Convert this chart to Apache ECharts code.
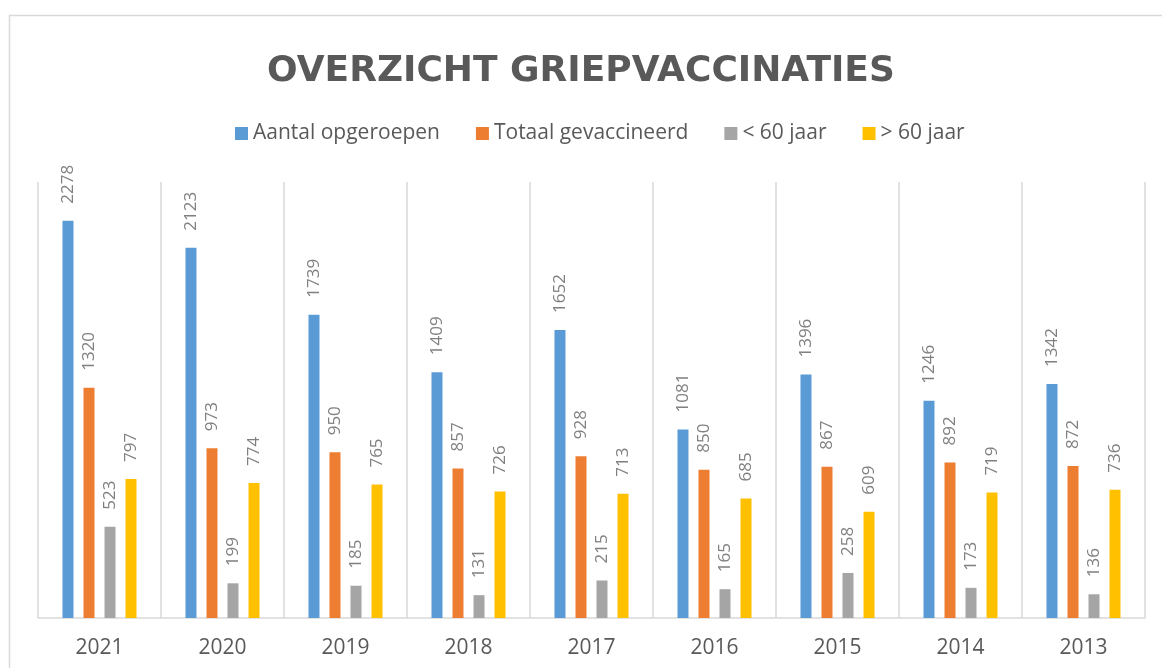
<!DOCTYPE html>
<html>
<head>
<meta charset="utf-8">
<script src="https://cdn.jsdelivr.net/npm/echarts@6/dist/echarts.min.js"></script>
<style>
html,body{margin:0;padding:0;background:#fff;}
#chart{width:1162px;height:668px;}
</style>
</head>
<body>
<div id="chart"></div>
<script>
const titleText = 'OVERZICHT GRIEPVACCINATIES';
const categories = ['2021','2020','2019','2018','2017','2016','2015','2014','2013'];
const seriesNames = ['Aantal opgeroepen','Totaal gevaccineerd','< 60 jaar','> 60 jaar'];
const aantalOpgeroepen = [2278, 2123, 1739, 1409, 1652, 1081, 1396, 1246, 1342];
const totaalGevaccineerd = [1320, 973, 950, 857, 928, 850, 867, 892, 872];
const onder60 = [523, 199, 185, 131, 215, 165, 258, 173, 136];
const boven60 = [797, 774, 765, 726, 713, 685, 609, 719, 736];
const colors = ['#5b9bd5','#ed7d31','#a5a5a5','#ffc000'];

const FONT = '"Open Sans", sans-serif';
const chart = echarts.init(document.getElementById('chart'), null, {renderer:'canvas'});
const dataSets = [aantalOpgeroepen, totaalGevaccineerd, onder60, boven60];

chart.setOption({
  animation: false,
  backgroundColor: '#ffffff',
  color: colors,
  graphic: [{
    type: 'rect', silent: true, z: -10,
    shape: {x: 9.5, y: 15.5, width: 1200, height: 700},
    style: {fill: 'none', stroke: '#d9d9d9', lineWidth: 1.5}
  }],
  title: {
    text: titleText,
    left: 'center',
    top: 49,
    textStyle: {fontFamily: '"DejaVu Sans", sans-serif', fontWeight: 'bold', fontSize: 36, color: '#595959'}
  },
  legend: {
    data: seriesNames,
    top: 118,
    left: 230,
    itemWidth: 13,
    itemHeight: 13,
    itemGap: 36,
    icon: 'rect',
    textStyle: {fontFamily: FONT, fontSize: 21, color: '#595959'}
  },
  grid: {left: 38, right: 17, top: 182, bottom: 50, containLabel: false},
  xAxis: {
    type: 'category',
    data: categories,
    axisLine: {lineStyle: {color: '#d9d9d9', width: 1.5}},
    axisTick: {show: false},
    splitLine: {show: true, interval: 0, lineStyle: {color: '#d9d9d9', width: 1.5}},
    axisLabel: {margin: 20, fontFamily: FONT, fontSize: 21, color: '#595959', interval: 0}
  },
  yAxis: {
    type: 'value', min: 0, max: 2500, show: false,
    splitLine: {show: false}
  },
  series: seriesNames.map((name, i) => ({
    name: name,
    type: 'bar',
    data: dataSets[i],
    barWidth: 11,
    barGap: '91%',
    itemStyle: {color: colors[i]},
    label: {
      show: true,
      position: 'top',
      rotate: 90,
      align: 'left',
      verticalAlign: 'middle',
      distance: 17,
      fontFamily: FONT,
      fontSize: 17,
      color: '#808080'
    }
  }))
});
</script>
</body>
</html>
